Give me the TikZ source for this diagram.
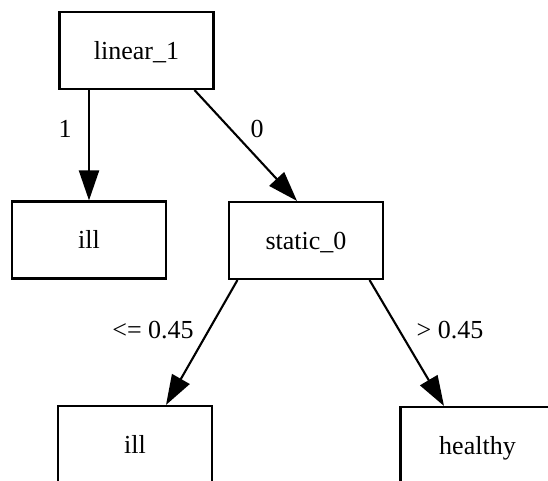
\documentclass[tikz,border=0pt]{standalone}
\usepackage{fontspec}
\setmainfont{Liberation Serif}
\usetikzlibrary{arrows.meta}
\begin{document}
\begin{tikzpicture}[x=1pt,y=-1pt,
  box/.style={draw,line width=2.1pt,minimum width=154pt,minimum height=77pt,inner sep=0pt,
    font=\fontsize{26}{30}\selectfont,text height=17.2pt,text depth=0pt},
  lbl/.style={font=\fontsize{26}{30}\selectfont,inner sep=0pt,anchor=base},
  edge/.style={line width=2.1pt,-{Triangle[length=30pt,width=20pt]}}]
\useasboundingbox (0,0) rectangle (548,481);
\clip (0,0) rectangle (548,481);
\node[box] (lin) at (136.5,50.5) {linear\_1};
\node[box] (ill1) at (89,240) {ill};
\node[box] (st) at (306,240.5) {static\_0};
\node[box] (ill2) at (135,444.5) {ill};
\node[box] (hea) at (477.5,445.5) {healthy};
\draw[edge] (ill1.north |- lin.south) -- (ill1.north);
\draw[edge] ([xshift=58pt]lin.south) -- ([xshift=-9pt]st.north);
\draw[edge] ([xshift=9.5pt]st.south west) -- ([xshift=31pt]ill2.north);
\draw[edge] ([xshift=-14.5pt]st.south east) -- ([xshift=-33.5pt]hea.north);
\node[lbl] (l1) at (65,138) {1};
\node[lbl] (l0) at (257,138) {0};
\node[lbl] (lle) at (153,338) {<= 0.45};
\node[lbl] (lgt) at (450,338) {> 0.45};
\end{tikzpicture}
\end{document}
